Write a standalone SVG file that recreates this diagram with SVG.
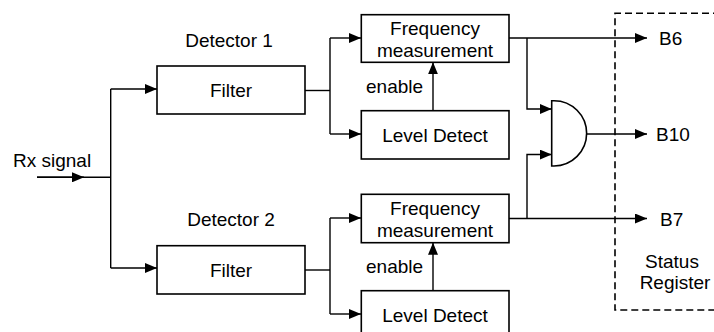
<svg xmlns="http://www.w3.org/2000/svg" width="714" height="332" viewBox="0 0 714 332">
<defs>
<marker id="ah" markerWidth="12" markerHeight="10" refX="12" refY="5" orient="auto" markerUnits="userSpaceOnUse">
<path d="M0,0 L12,5 L0,10 Z" fill="#000"/>
</marker>
<style>
text{font-family:"Liberation Sans",Arial,sans-serif;font-size:19px;fill:#000}
.box{fill:#fff;stroke:#000;stroke-width:1.6}
.ln{fill:none;stroke:#000;stroke-width:1.4}
.mid{text-anchor:middle}
</style>
</defs>
<rect width="714" height="332" fill="#fff"/>
<g id="connectors">
<path class="ln" d="M37,177.3 H110.7"/>
<path class="ln" d="M37,177.3 H84" marker-end="url(#ah)"/>
<path class="ln" d="M110.7,89 V268"/>
<path class="ln" d="M110.7,89 H157" marker-end="url(#ah)"/>
<path class="ln" d="M110.7,268 H157" marker-end="url(#ah)"/>
<path class="ln" d="M305,90.5 H330"/>
<path class="ln" d="M330,38 V134"/>
<path class="ln" d="M330,38 H361" marker-end="url(#ah)"/>
<path class="ln" d="M330,134 H361" marker-end="url(#ah)"/>
<path class="ln" d="M305,270 H330"/>
<path class="ln" d="M330,218 V314"/>
<path class="ln" d="M330,218 H361" marker-end="url(#ah)"/>
<path class="ln" d="M330,314 H361" marker-end="url(#ah)"/>
<path class="ln" d="M433,110.7 V62.3" marker-end="url(#ah)"/>
<path class="ln" d="M433,290.7 V242.7" marker-end="url(#ah)"/>
<path class="ln" d="M509,38 H647" marker-end="url(#ah)"/>
<path class="ln" d="M509,218.5 H647" marker-end="url(#ah)"/>
<path class="ln" d="M527,38 V109 H551.7" marker-end="url(#ah)"/>
<path class="ln" d="M527,218.5 V154.5 H551.7" marker-end="url(#ah)"/>
<path class="ln" d="M586.7,134 H647" marker-end="url(#ah)"/>
</g>
<g id="rx"><text x="13" y="167">Rx signal</text></g>
<g id="filter1">
<text class="mid" x="229" y="47">Detector 1</text>
<rect class="box" x="157" y="66" width="148" height="48"/>
<text class="mid" x="231" y="96.7">Filter</text>
</g>
<g id="filter2">
<text class="mid" x="231" y="225.7">Detector 2</text>
<rect class="box" x="157" y="245.7" width="148" height="48.3"/>
<text class="mid" x="231" y="276.7">Filter</text>
</g>
<g id="freq1">
<rect class="box" x="361.3" y="14.7" width="147.7" height="47.6"/>
<text class="mid" x="435" y="35">Frequency</text>
<text class="mid" x="435" y="57">measurement</text>
</g>
<g id="level1">
<rect class="box" x="361.3" y="110.7" width="147.7" height="48.3"/>
<text class="mid" x="435" y="141.5">Level Detect</text>
<text x="366" y="93">enable</text>
</g>
<g id="freq2">
<rect class="box" x="361.3" y="194.3" width="147.7" height="48.4"/>
<text class="mid" x="435" y="215">Frequency</text>
<text class="mid" x="435" y="237">measurement</text>
</g>
<g id="level2">
<rect class="box" x="361.3" y="290.7" width="147.7" height="50"/>
<text class="mid" x="435" y="321.5">Level Detect</text>
<text x="366" y="273">enable</text>
</g>
<g id="and">
<path class="box" d="M551.7,100.7 H554 A32.65,32.65 0 0 1 554,166 H551.7 Z"/>
</g>
<g id="register">
<path fill="none" stroke="#000" stroke-width="1.6" stroke-dasharray="7,4" d="M720,13.3 H615 V310 H720"/>
<text x="659" y="45">B6</text>
<text x="656" y="141">B10</text>
<text x="660" y="225.7">B7</text>
<text class="mid" x="672" y="268">Status</text>
<text class="mid" x="675" y="289">Register</text>
</g>
</svg>
